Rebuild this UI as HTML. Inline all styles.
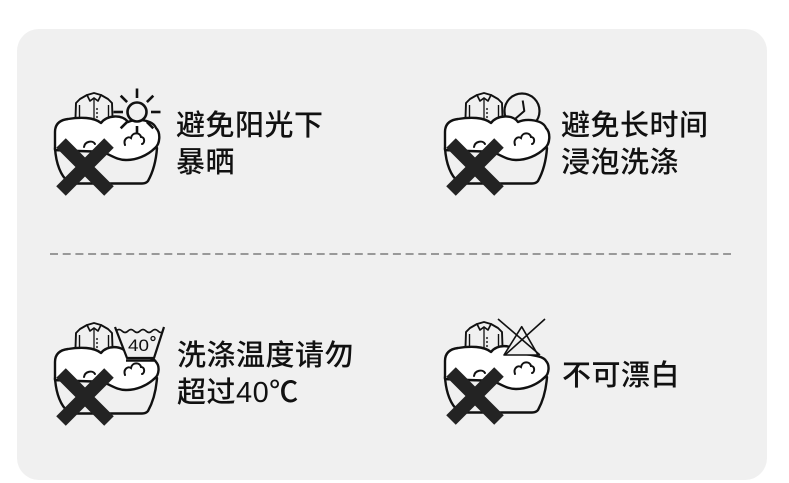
<!DOCTYPE html>
<html>
<head>
<meta charset="utf-8">
<style>
  html,body{margin:0;padding:0;background:#fff;}
  body{width:789px;height:483px;position:relative;overflow:hidden;}
  svg{position:absolute;left:0;top:0;}
  .t{position:absolute;font-family:"Liberation Sans","Noto Sans CJK SC",sans-serif;font-size:29px;font-weight:500;line-height:37px;letter-spacing:0.5px;color:#111;white-space:nowrap;}
</style>
</head>
<body>
<svg width="789" height="483" viewBox="0 0 789 483" xmlns="http://www.w3.org/2000/svg">
  <defs>
    <g id="shirt">
      <path d="M47,15 L40,19 L36,23 L35,52 L73,52 L72,23 L68,19 L61,15 Z" fill="#f0f0f0" stroke="#111" stroke-width="1.9" stroke-linejoin="round"/>
      <path d="M47,15 L54,13 L61,15 L58,21 L54,18 L50,21 Z" fill="#f0f0f0" stroke="#111" stroke-width="1.7" stroke-linejoin="round"/>
      <line x1="54" y1="19" x2="54" y2="52" stroke="#111" stroke-width="1.3"/>
      <line x1="39.5" y1="25" x2="39.5" y2="52" stroke="#111" stroke-width="1.4"/>
      <line x1="68.5" y1="25" x2="68.5" y2="52" stroke="#111" stroke-width="1.4"/>
      <circle cx="57" cy="29" r="1.1" fill="#444"/>
      <circle cx="57" cy="33" r="1.1" fill="#444"/>
      <circle cx="57" cy="37" r="1.1" fill="#444"/>
      <circle cx="57" cy="41" r="1.1" fill="#444"/>
    </g>
    <path id="basin" d="M15,68 C16,84 21,96 28,101.5 Q30,103.5 34,103.5 L102,103.5 Q106,103.5 108,101 C113,92 116,82 117,68 Z" fill="#f0f0f0" stroke="#111" stroke-width="2.4" stroke-linejoin="round"/>
    <path id="foamA" d="M15,70 L15,52 C15,44 20,40 28,39 C40,37 54,37 61,43 C67,35 82,34 88,42 C97,38 113,40 116,48 C121,53 120,64 115,68 C107,76 96,80 86,80 C76,80 70,74 62,72 C48,71 28,71 15,70 Z" fill="#fff" stroke="#111" stroke-width="2.4" stroke-linejoin="round"/>
    <path id="foamB" d="M15,70 L15,52 C15,44 20,40 28,39 C40,37 54,37 61,43 C67,35 82,35 88,44 C97,46 113,46 116,52 C120,56 119,65 115,68 C107,76 96,80 86,80 C76,80 70,74 62,72 C48,71 28,71 15,70 Z" fill="#fff" stroke="#111" stroke-width="2.4" stroke-linejoin="round"/>
    <g id="curls" fill="none" stroke="#111" stroke-width="2" stroke-linecap="round">
      <path d="M44,67 C45,61 53,60 55,64"/>
      <path d="M85,65 C83,59 88,56 91,58 C92,52 100,52 101,57 C105,57 105,63 102,64"/>
    </g>
    <g id="xmark" stroke="#232323" stroke-width="13.5" stroke-linecap="butt">
      <line x1="21" y1="63" x2="69" y2="111"/>
      <line x1="69" y1="63" x2="21" y2="111"/>
    </g>
  </defs>

  <rect x="0" y="0" width="789" height="483" fill="#fff"/>
  <rect x="17" y="29" width="750" height="451" rx="22" ry="22" fill="#f0f0f0"/>
  <line x1="50" y1="254" x2="731" y2="254" stroke="#999" stroke-width="2" stroke-dasharray="8 4.7"/>

  <!-- Icon 1: sun -->
  <g transform="translate(40,80)">
    <use href="#shirt"/>
    <use href="#basin"/>
    <use href="#foamA"/>
    <use href="#curls"/>
    <g stroke="#111" stroke-width="2.6" fill="none">
      <circle cx="97" cy="32" r="9.5" fill="#f0f0f0"/>
      <line x1="97" y1="18" x2="97" y2="8.5"/>
      <line x1="97" y1="46" x2="97" y2="54"/>
      <line x1="83" y1="32" x2="73.5" y2="32"/>
      <line x1="111" y1="32" x2="120.5" y2="32"/>
      <line x1="87.1" y1="22.1" x2="80.7" y2="15.7"/>
      <line x1="106.9" y1="22.1" x2="113.3" y2="15.7"/>
      <line x1="87.1" y1="41.9" x2="80.7" y2="48.3"/>
      <line x1="106.9" y1="41.9" x2="113.3" y2="48.3"/>
    </g>
    <use href="#xmark"/>
  </g>

  <!-- Icon 2: clock -->
  <g transform="translate(430,80)">
    <use href="#shirt"/>
    <circle cx="92" cy="31" r="17.5" fill="#f0f0f0" stroke="#111" stroke-width="2.2"/>
    <path d="M92.7,20.5 L94.3,31 L83,40.7" fill="none" stroke="#111" stroke-width="2" stroke-linejoin="round"/>
    <use href="#basin"/>
    <use href="#foamA"/>
    <use href="#curls"/>
    <use href="#xmark"/>
  </g>

  <!-- Icon 3: 40 degree tub -->
  <g transform="translate(40,310)">
    <use href="#shirt"/>
    <use href="#basin"/>
    <use href="#foamB"/>
    <use href="#curls"/>
    <path d="M75,17 L87,48 L114,48 L124,17" fill="#f0f0f0" stroke="#111" stroke-width="2.2" stroke-linejoin="round"/>
    <path d="M76,21 q3,-3 6,0 t6,0 t6,0 t6,0 t6,0 t6,0 t6,0 t5,0" fill="none" stroke="#111" stroke-width="1.6"/>
    <line x1="86" y1="50.5" x2="115" y2="50.5" stroke="#111" stroke-width="2.6"/>
    <text x="88" y="41" font-family="Liberation Sans, sans-serif" font-size="17" fill="#111" textLength="21" lengthAdjust="spacingAndGlyphs">40</text>
    <circle cx="113" cy="28.5" r="2" fill="none" stroke="#111" stroke-width="1.3"/>
    <use href="#xmark"/>
  </g>

  <!-- Icon 4: no bleach -->
  <g transform="translate(430,309)">
    <use href="#shirt"/>
    <use href="#basin"/>
    <use href="#foamB"/>
    <use href="#curls"/>
    <g fill="none" stroke="#111" stroke-width="1.6" stroke-linejoin="round">
      <path d="M91.7,17.7 L74,46 L108,46 Z" fill="#f0f0f0"/>
      <line x1="68" y1="10" x2="110" y2="46"/>
      <line x1="115" y1="10" x2="75" y2="46"/>
    </g>
    <use href="#xmark"/>
  </g>
</svg>

<div class="t" style="left:176px;top:108px;">避免阳光下<br>暴晒</div>
<div class="t" style="left:561px;top:108px;">避免长时间<br>浸泡洗涤</div>
<div class="t" style="left:177px;top:338px;">洗涤温度请勿<br>超过40℃</div>
<div class="t" style="left:562px;top:358px;">不可漂白</div>
</body>
</html>
